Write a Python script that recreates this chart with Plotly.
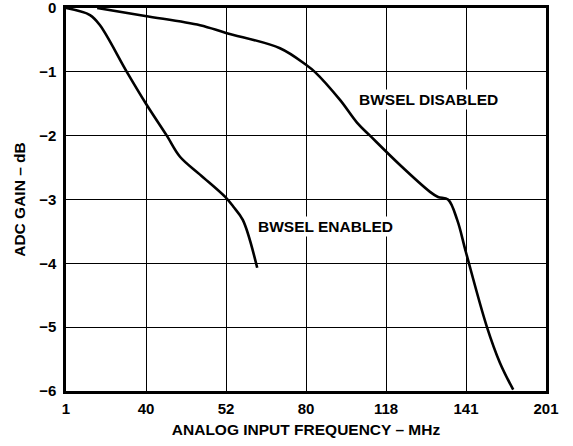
import plotly.graph_objects as go

# x positions are in axis-grid units (0..6), labelled with the frequency ticks
tick_labels = ["1", "40", "52", "80", "118", "141", "201"]
y_ticks = [0, -1, -2, -3, -4, -5, -6]

disabled_x = [0.39, 0.99, 1.675, 2.0, 2.675, 3.0, 3.11, 3.425, 3.64, 3.8, 4.175,
              4.55, 4.65, 4.775, 4.89, 5.0, 5.26, 5.425, 5.59]
disabled_y = [0.0, -0.125, -0.27, -0.39, -0.63, -0.89, -1.0, -1.44, -1.80, -2.0, -2.46,
              -2.88, -2.96, -3.0, -3.32, -3.83, -4.99, -5.56, -5.98]

enabled_x = [0.0, 0.3, 0.425, 0.76, 1.0, 1.26, 1.425, 1.675, 1.99, 2.09, 2.21, 2.39]
enabled_y = [0.0, -0.11, -0.27, -1.0, -1.5, -2.0, -2.33, -2.61, -2.96, -3.11, -3.32, -4.07]

FONT = "Liberation Sans, Arial, sans-serif"

fig = go.Figure()
fig.add_trace(go.Scatter(x=disabled_x, y=disabled_y, mode="lines", line_shape="spline",
                         line=dict(color="black", width=2.6), showlegend=False))
fig.add_trace(go.Scatter(x=enabled_x, y=enabled_y, mode="lines", line_shape="spline",
                         line=dict(color="black", width=2.6), showlegend=False))

lab_font = dict(family=FONT, size=15.5, color="black", weight="bold")
fig.add_annotation(x=4.53, y=-1.44, text="BWSEL DISABLED", showarrow=False,
                   font=lab_font, bgcolor="white")
fig.add_annotation(x=3.24, y=-3.43, text="BWSEL ENABLED", showarrow=False,
                   font=lab_font, bgcolor="white")

def fmt(v):
    return "0" if v == 0 else "\u2212" + str(abs(v))

tick_font = dict(size=15, family=FONT, weight="bold")
title_font = dict(size=15.5, family=FONT, weight="bold")

fig.update_layout(
    template="none",
    width=573, height=446,
    margin=dict(l=66, r=27, t=8, b=55),
    plot_bgcolor="white", paper_bgcolor="white",
    font=dict(family=FONT, color="black"),
    xaxis=dict(range=[0, 6], tickvals=list(range(7)), ticktext=tick_labels, automargin=False,
               showgrid=True, gridcolor="black", gridwidth=1.2, zeroline=False,
               showline=True, linecolor="black", linewidth=2.5, mirror=True,
               ticks="", ticklen=0, tickfont=tick_font, ticklabeloverflow="allow",
               ticklabelstandoff=2,
               title=dict(text="ANALOG INPUT FREQUENCY – MHz", font=title_font, standoff=9)),
    yaxis=dict(range=[-6, 0], tickvals=y_ticks, ticktext=[fmt(v) for v in y_ticks], automargin=False,
               showgrid=True, gridcolor="black", gridwidth=1.2, zeroline=False,
               showline=True, linecolor="black", linewidth=2.5, mirror=True,
               ticks="", ticklen=0, tickfont=tick_font, ticklabeloverflow="allow",
               ticklabelstandoff=4,
               title=dict(text="ADC GAIN – dB", font=title_font, standoff=10)),
)

fig.write_html("out.html", config={"displayModeBar": False},
               post_script="document.body.style.margin='0px';")
